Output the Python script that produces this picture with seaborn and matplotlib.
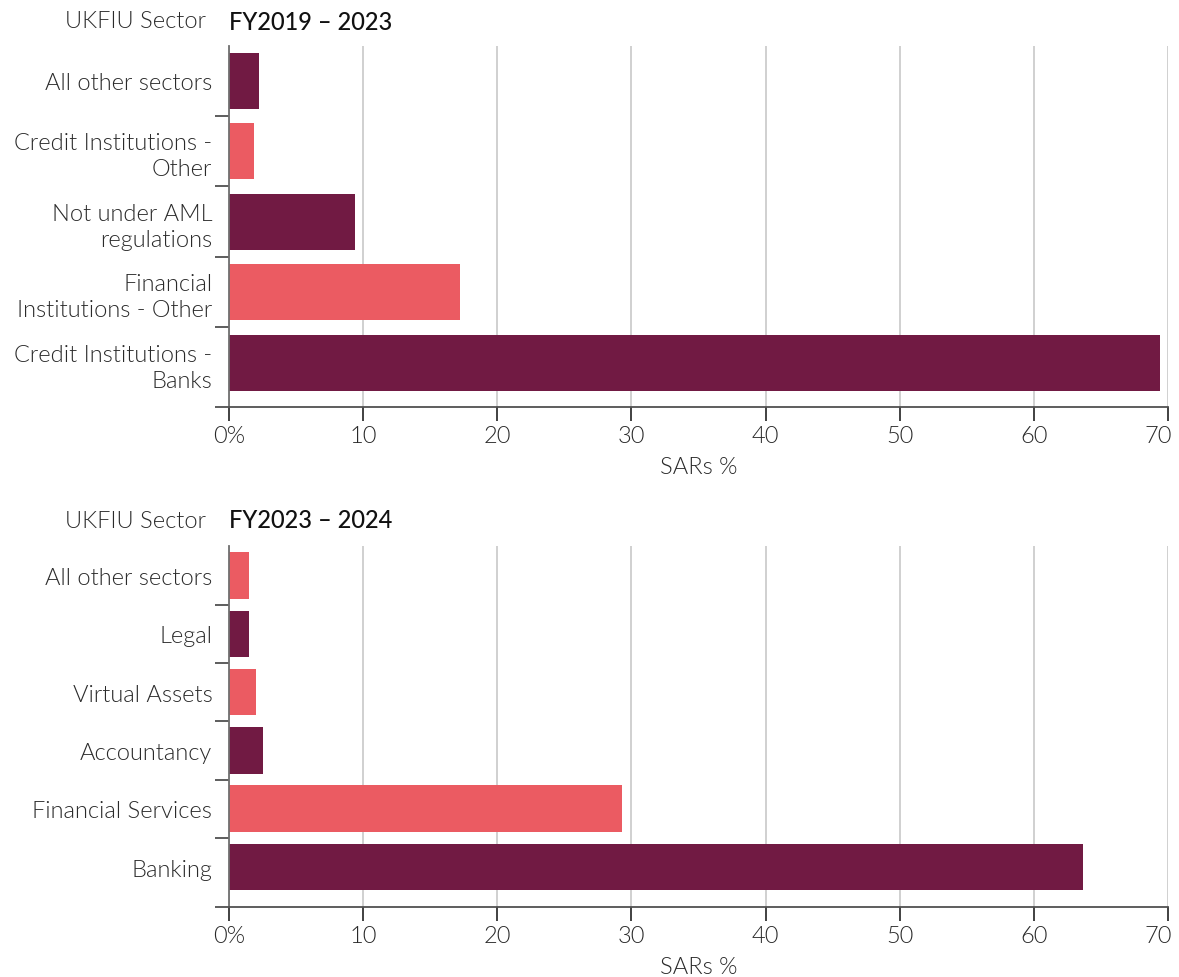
import matplotlib
matplotlib.use("Agg")
import matplotlib.pyplot as plt
import matplotlib.transforms as mtransforms
import seaborn as sns
import numpy as np
import pandas as pd
from matplotlib.ticker import FixedLocator

# ---- data ----
top_categories = ["All other sectors", "Credit Institutions -\nOther", "Not under AML\nregulations",
                  "Financial\nInstitutions - Other", "Credit Institutions -\nBanks"]
top_values = [2.2, 1.9, 9.4, 17.2, 69.4]
bottom_categories = ["All other sectors", "Legal", "Virtual Assets", "Accountancy",
                     "Financial Services", "Banking"]
bottom_values = [1.5, 1.5, 2.0, 2.5, 29.3, 63.7]
x_ticks = [0, 10, 20, 30, 40, 50, 60, 70]
x_ticklabels = ["0%", "10", "20", "30", "40", "50", "60", "70"]
top_header = "FY2019 – 2023"
bottom_header = "FY2023 – 2024"

DARK = "#711A43"
CORAL = "#EB5B62"
top_colors = [DARK, CORAL, DARK, CORAL, DARK]
bottom_colors = [CORAL, DARK, CORAL, DARK, CORAL, DARK]

sns.set_theme(style="white")
plt.rcParams['font.family'] = ['Lato', 'DejaVu Sans']

W, H = 1179, 978
fig = plt.figure(figsize=(W / 100, H / 100), dpi=100)

def px_axes(x0, y0, x1, y1):
    return fig.add_axes([x0 / W, 1 - y1 / H, (x1 - x0) / W, (y1 - y0) / H])

TXT = "#2a2a2a"
FS = 17
LW = 300

def draw(ax, cats, vals, cols, header, header_y, ybottom):
    df = pd.DataFrame({"cat": cats, "val": vals})
    sns.barplot(data=df, x="val", y="cat", hue="cat", palette=cols, legend=False,
                width=0.8, orient="h", ax=ax, saturation=1, linewidth=0)
    n = len(cats)
    ax.set_xlim(0, 70)
    ax.set_ylim(ybottom, -0.5)
    ax.set_xticks(x_ticks)
    ax.set_xticklabels(x_ticklabels)
    ax.grid(axis="x", color="#c8c8c8", linewidth=1.2)
    ax.grid(axis="y", visible=False)
    ax.set_axisbelow(True)
    for s in ["top", "right"]:
        ax.spines[s].set_visible(False)
    ax.spines["left"].set_color("#707070")
    ax.spines["left"].set_linewidth(1.3)
    ax.spines["bottom"].set_color("#505050")
    ax.spines["bottom"].set_linewidth(1.3)
    ax.tick_params(axis="y", which="major", length=0, labelsize=FS, labelcolor=TXT, pad=12)
    ax.yaxis.set_minor_locator(FixedLocator([i + 0.5 for i in range(n - 1)] + [ybottom]))
    ax.tick_params(axis="y", which="minor", left=True, length=10, width=1.3, color="#505050")
    ax.tick_params(axis="x", which="major", bottom=True, length=10, width=1.3, color="#333333",
                   labelsize=FS, labelcolor=TXT, pad=3)
    for lab in ax.get_yticklabels():
        lab.set_horizontalalignment("right")
        lab.set_multialignment("right")
        lab.set_fontweight(LW)
        lab.set_linespacing(1.3)
    xlabs = ax.get_xticklabels()
    for lab in xlabs:
        lab.set_fontweight(LW)
    shift = mtransforms.ScaledTranslation(-10 / 100, 0, fig.dpi_scale_trans)
    xlabs[-1].set_transform(xlabs[-1].get_transform() + shift)
    ax.set_ylabel("")
    ax.set_xlabel("SARs %", fontsize=FS, color=TXT, fontweight=LW, labelpad=7)
    fig.text(206 / W, 1 - header_y / H, "UKFIU Sector", ha="right", va="center",
             fontsize=FS, color=TXT, fontweight=LW)
    fig.text(229 / W, 1 - header_y / H, header, ha="left", va="center",
             fontsize=FS, color="#111111", fontweight=500)

ax1 = px_axes(229, 46.5, 1168, 408)
draw(ax1, top_categories, top_values, top_colors, top_header, 22, 4.628)
ax2 = px_axes(229, 547.4, 1168, 908)
draw(ax2, bottom_categories, bottom_values, bottom_colors, bottom_header, 521, 5.685)

fig.savefig("out.png", dpi=100)
